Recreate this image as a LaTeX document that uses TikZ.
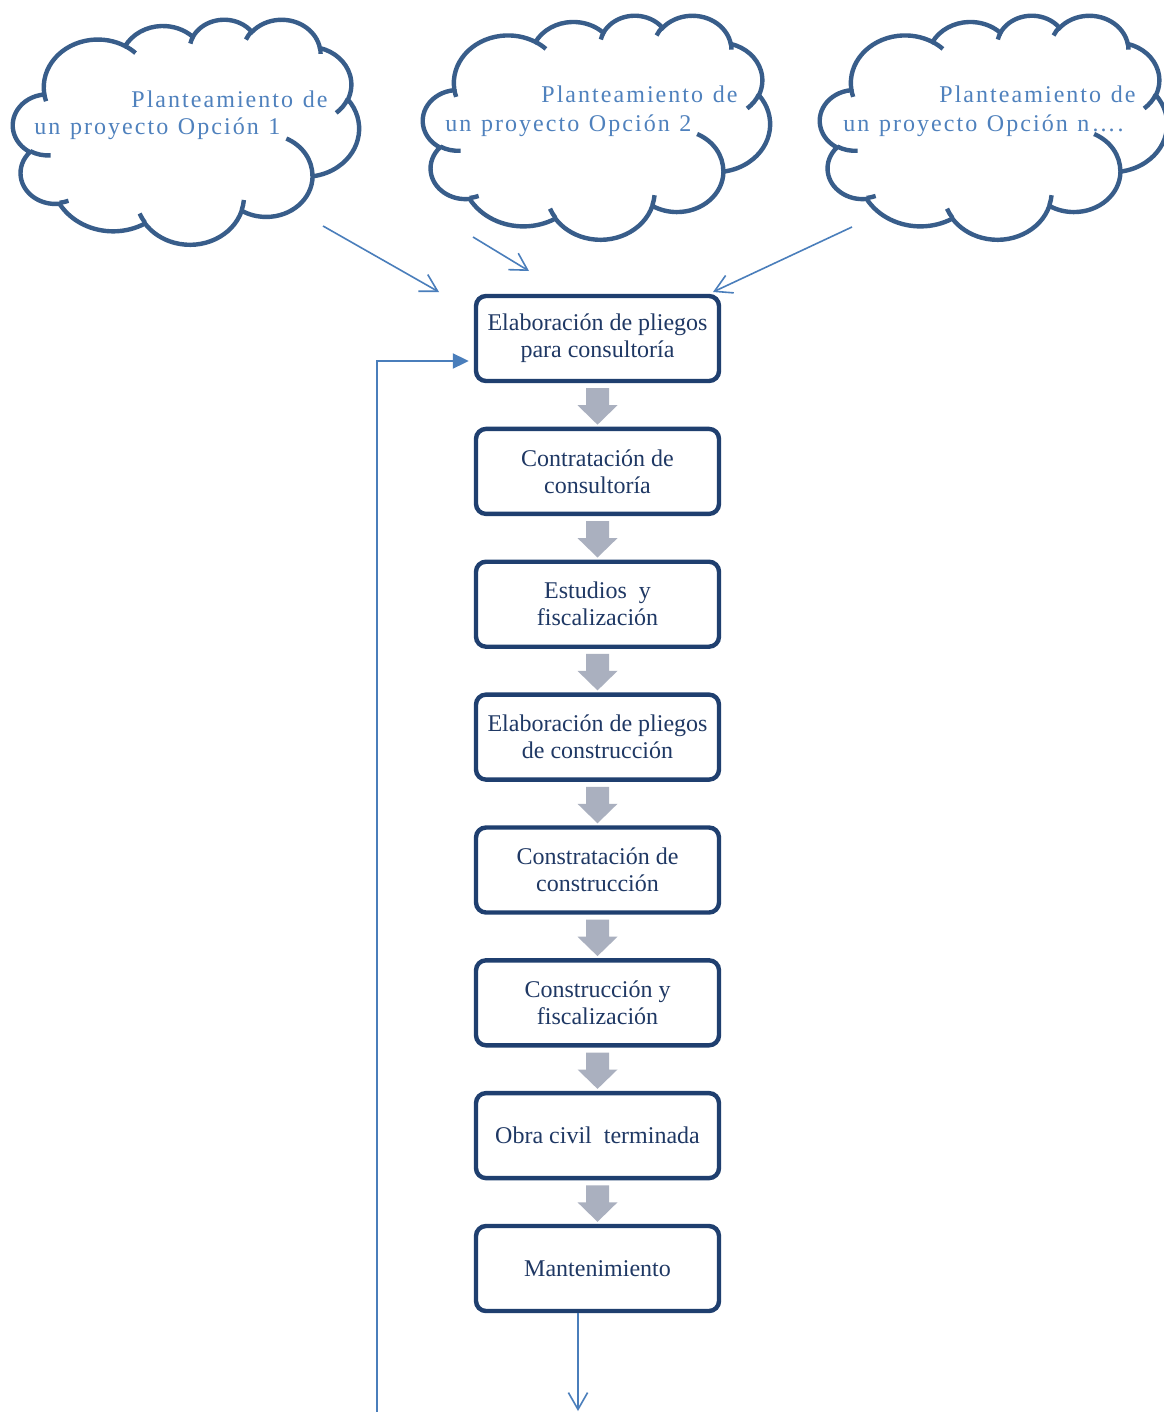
\documentclass[tikz,border=0pt]{standalone}
\usepackage{fontspec}
\setmainfont{Liberation Serif}
\newfontfamily\cloudfont{Liberation Serif}[LetterSpace=8.5,WordSpace=1.2]
\usetikzlibrary{arrows.meta,calc}
\definecolor{cloudline}{HTML}{385D8A}
\definecolor{cloudtext}{HTML}{4F81BD}
\definecolor{boxline}{HTML}{1F3F6F}
\definecolor{boxtext}{HTML}{1F3864}
\definecolor{blockgray}{HTML}{AAB0BF}
\definecolor{connblue}{HTML}{4A7EBB}
% OOXML-style arc: radii wR hR, visual start angle, sweep
\newcommand\oarc[4]{arc[x radius=#1, y radius=#2, start angle={atan2(#1*sin(#3),#2*cos(#3))}, delta angle={atan2(#1*sin(#3+#4),#2*cos(#3+#4))-atan2(#1*sin(#3),#2*cos(#3))+360*(atan2(#1*sin(#3+#4),#2*cos(#3+#4))<atan2(#1*sin(#3),#2*cos(#3)))}]}
\newcommand\cloudshape[4]{%
  \pgfmathsetmacro\cxu{#3/43.2*0.5}%
  \pgfmathsetmacro\cyu{#4/43.2*0.5}%
  \begin{scope}[shift={(#1,#2)}, x=\cxu pt, y=-\cyu pt]
    \draw[cloudstyle, fill=white] (3.900,14.370)
      \oarc{6.753}{9.190}{-190.4875}{123.7805}
      \oarc{5.333}{7.267}{-144.1024}{89.9452}
      \oarc{4.365}{5.945}{-145.8079}{99.7230}
      \oarc{4.857}{6.595}{-130.9861}{117.2417}
      \oarc{5.333}{7.273}{-78.7089}{109.0269}
      \oarc{6.775}{9.220}{-46.2673}{130.2690}
      \oarc{5.785}{7.867}{0.6250}{114.0333}
      \oarc{6.752}{9.215}{22.4516}{115.1726}
      \oarc{7.720}{10.543}{66.2426}{75.7110}
      \oarc{4.360}{5.918}{-274.9421}{146.7356}
      \oarc{4.345}{5.945}{-246.8285}{152.5189}
      -- cycle;
    \draw[cloudstyle]
      (4.693,26.177) \oarc{4.345}{5.945}{86.7420}{26.4295}
      (6.928,34.899) \oarc{4.360}{5.918}{73.6105}{11.4475}
      (16.478,39.090) \oarc{6.752}{9.215}{137.6242}{14.0811}
      (28.827,34.751) \oarc{6.752}{9.215}{6.4533}{15.9984}
      (34.129,22.954) \oarc{5.785}{7.867}{-70.2924}{70.9174}
      (41.798,15.354) \oarc{5.333}{7.273}{30.3180}{27.7515}
      (38.324,5.426) \oarc{4.857}{6.595}{-13.7443}{14.8589}
      (29.078,3.952) \oarc{4.857}{6.595}{-149.1815}{18.1954}
      (22.141,4.720) \oarc{4.365}{5.945}{-163.4943}{17.6864}
      (14.000,5.192) \oarc{6.753}{9.190}{-66.7070}{12.3194}
      (4.127,15.789) \oarc{6.753}{9.190}{157.6544}{11.8582};
  \end{scope}}
\tikzset{
  cloudstyle/.style={draw=cloudline, line width=2.2pt},
  cloudtxt/.style={anchor=base west, inner sep=0pt, text=cloudtext, font=\cloudfont\fontsize{12}{14}\selectfont},
  stepbox/.style={draw=boxline, line width=2.2pt, rounded corners=5pt, minimum width=121.5pt, minimum height=42.5pt, inner sep=0pt, align=center, text=boxtext, fill=white, font=\fontsize{12}{13.5}\selectfont},
  blockarr/.style={fill=blockgray},
  conn/.style={draw=connblue, line width=0.8pt, -{Straight Barb[length=8.4pt,width=9.6pt]}},
  fbconn/.style={draw=connblue, line width=1pt, -{Triangle[length=8pt,width=7.5pt]}}
}
\begin{document}
\begin{tikzpicture}[x=0.5pt, y=-0.5pt]
\useasboundingbox (0,0) rectangle (1163,1412);
\fill[white] (0,0) rectangle (1163,1412);
% clouds
\cloudshape{13}{19}{346}{225}
\cloudshape{423}{15}{347}{224}
\cloudshape{820}{15}{347}{224}
\node[cloudtxt] (c1a) at (131,108) {Planteamiento de};
\node[cloudtxt] (c1b) at (34,135) {un proyecto Opción 1};
\node[cloudtxt] (c2a) at (541,103) {Planteamiento de};
\node[cloudtxt] (c2b) at (445,132) {un proyecto Opción 2};
\node[cloudtxt] (c3a) at (939,103) {Planteamiento de};
\node[cloudtxt] (c3b) at (843,132) {un proyecto Opción n….};
% boxes
\node[stepbox] (b1) at (597.5,338.5) {Elaboración de pliegos\\para consultoría};
\node[stepbox] (b2) at (597.5,471.4) {Contratación de\\consultoría};
\node[stepbox] (b3) at (597.5,604.2) {Estudios~ y\\fiscalización};
\node[stepbox] (b4) at (597.5,737.1) {Elaboración de pliegos\\de construcción};
\node[stepbox] (b5) at (597.5,870.0) {Constratación de\\construcción};
\node[stepbox] (b6) at (597.5,1002.8) {Construcción y\\fiscalización};
\node[stepbox] (b7) at (597.5,1135.6) {Obra civil~ terminada};
\node[stepbox] (b8) at (597.5,1268.5) {Mantenimiento};
% block arrows
\foreach \i [evaluate=\i as \j using int(\i+1)] in {1,...,7}{
  \fill[blockarr] ($(b\i.south)+(-11.5,5)$) -- ++(23,0) -- ++(0,17) -- ++(8.5,0)
    -- ($(b\j.north)+(0,-2)$) -- ($(b\i.south)+(-20,22)$) -- ++(8.5,0) -- cycle;
}
% connectors from clouds
\coordinate (s1) at (323,226);
\coordinate (t1) at (439,292);
\coordinate (s2) at (473,237);
\coordinate (t2) at (529,271);
\coordinate (s3) at (852,227);
\coordinate (t3) at (713,292);
\draw[conn] (s1) -- (t1);
\draw[conn] (s2) -- (t2);
\draw[conn] (s3) -- (t3);
% feedback
\coordinate (fb) at (377,1413);
\draw[fbconn] (fb) |- ($(b1.west)+(-5,22.5)$);
% bottom
\coordinate (endb) at (578,1411);
\draw[conn] (endb |- b8.south) -- (endb);
\end{tikzpicture}
\end{document}
